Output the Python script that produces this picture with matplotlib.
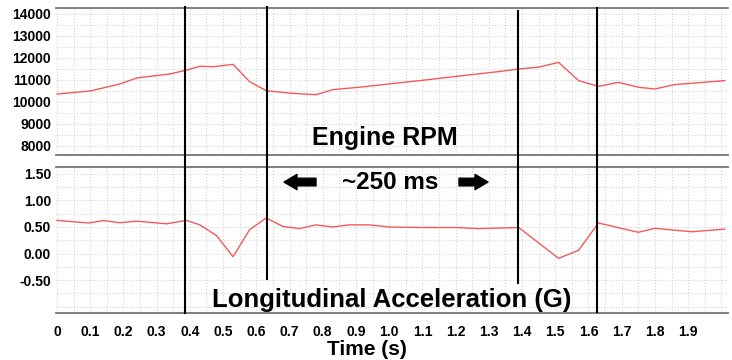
import numpy as np
import matplotlib
matplotlib.use("Agg")
import matplotlib.pyplot as plt
from matplotlib.lines import Line2D
from matplotlib.patches import FancyArrowPatch
from matplotlib.transforms import blended_transform_factory

plt.rcParams['font.family'] = ['Liberation Sans', 'DejaVu Sans']
plt.rcParams['font.weight'] = 'bold'

# Engine RPM
t_rpm = [0.0, 0.10, 0.19, 0.24, 0.34, 0.39, 0.43, 0.47, 0.53, 0.58, 0.63, 0.71,
         0.78, 0.83, 0.91, 1.00, 1.11, 1.16, 1.33, 1.39, 1.45, 1.51, 1.57, 1.63,
         1.69, 1.75, 1.80, 1.86, 2.01]
rpm = [10360, 10500, 10820, 11090, 11270, 11450, 11620, 11600, 11710, 10920, 10510, 10390,
       10330, 10560, 10670, 10820, 11000, 11090, 11380, 11500, 11580, 11800, 10970, 10710,
       10890, 10670, 10590, 10790, 10970]

# Longitudinal acceleration (G)
t_acc = [0.0, 0.095, 0.14, 0.19, 0.24, 0.33, 0.39, 0.43, 0.48, 0.53, 0.58, 0.63,
         0.68, 0.73, 0.78, 0.83, 0.88, 0.94, 1.00, 1.10, 1.20, 1.27, 1.39, 1.51,
         1.57, 1.63, 1.75, 1.80, 1.91, 2.01]
acc = [0.625, 0.575, 0.62, 0.58, 0.61, 0.56, 0.625, 0.54, 0.34, -0.06, 0.45, 0.67,
       0.51, 0.47, 0.54, 0.50, 0.54, 0.54, 0.50, 0.49, 0.49, 0.47, 0.49, -0.09,
       0.06, 0.575, 0.40, 0.475, 0.41, 0.46]

# shift markers (s)
t_events = [0.386, 0.633, 1.389, 1.627]

xticks = np.round(np.arange(0, 2.0, 0.1), 1)
xlabels = ['0'] + ['%.1f' % v for v in xticks[1:]]
rpm_ticks = [8000, 9000, 10000, 11000, 12000, 13000, 14000]
acc_ticks = [-0.5, 0.0, 0.5, 1.0, 1.5]

red = '#f25a5a'
spine_c = '#6a6a6a'
grid_c = '#d4d4d4'

fig = plt.figure(figsize=(7.32, 3.6), dpi=100)
ax1 = fig.add_axes([56/732, 1-155/360, 672/732, 147/360])
ax2 = fig.add_axes([56/732, 1-313/360, 672/732, 146/360])

for ax in (ax1, ax2):
    ax.set_xlim(-0.003, 2.02)
    ax.set_xticks(xticks)
    ax.set_xticks(np.arange(0, 2.05, 0.05), minor=True)
    ax.grid(True, which='both', linestyle=':', color=grid_c, linewidth=0.8)
    ax.tick_params(which='both', length=0, labelsize=10)
    for s in ('left', 'right'):
        ax.spines[s].set_visible(False)
    for s in ('top', 'bottom'):
        ax.spines[s].set_color(spine_c)
        ax.spines[s].set_linewidth(1.2)
    ax.set_axisbelow(True)

ax1.plot(t_rpm, rpm, color=red, lw=1.0)
ax1.set_ylim(7590, 14270)
ax1.set_yticks(rpm_ticks)
ax1.set_yticklabels([str(v) for v in rpm_ticks])
ax1.set_yticks(np.arange(8000, 14001, 500), minor=True)
ax1.tick_params(axis='x', labelbottom=False)
ax1.tick_params(axis='y', pad=3.5)

ax2.plot(t_acc, acc, color=red, lw=1.0)
ax2.set_ylim(-1.12, 1.63)
ax2.set_yticks(acc_ticks)
ax2.set_yticklabels(['%.2f' % v for v in acc_ticks])
ax2.set_yticks(np.arange(-1.0, 1.51, 0.25), minor=True)
ax2.set_xticklabels(xlabels)
ax2.tick_params(axis='x', pad=9)
ax2.tick_params(axis='y', pad=3.5)

# vertical shift markers spanning both panels
tr = blended_transform_factory(ax2.transData, fig.transFigure)
tops = [0.981, 0.981, 0.970, 0.978]
bottoms = [0.131, 0.225, 0.214, 0.133]
for t, y0, y1 in zip(t_events, bottoms, tops):
    fig.add_artist(Line2D([t, t], [y0, y1], transform=tr, color='black', lw=1.5))

ax1.text(0.49, 0.068, 'Engine RPM', transform=ax1.transAxes, ha='center',
         va='baseline', fontsize=18, fontweight='bold')
ax2.text(0.497, 0.849, '~250 ms', transform=ax2.transAxes, ha='center',
         va='baseline', fontsize=17.5, fontweight='bold')
ax2.text(0.499, 0.041, 'Longitudinal Acceleration (G)', transform=ax2.transAxes,
         ha='center', va='baseline', fontsize=18.5, fontweight='bold')

arrow_style = 'simple,head_length=0.85,head_width=1.0,tail_width=0.5'
for x_from, x_to in [((316-56)/672, (284-56)/672), ((459-56)/672, (488-56)/672)]:
    ax2.add_patch(FancyArrowPatch((x_from, 0.897), (x_to, 0.897), transform=ax2.transAxes,
                                  arrowstyle=arrow_style, mutation_scale=11,
                                  color='black', shrinkA=0, shrinkB=0))

fig.text(367/732, 1-355/360, 'Time (s)', ha='center', va='baseline',
         fontsize=15, fontweight='bold')

fig.savefig('out.png', dpi=100)
